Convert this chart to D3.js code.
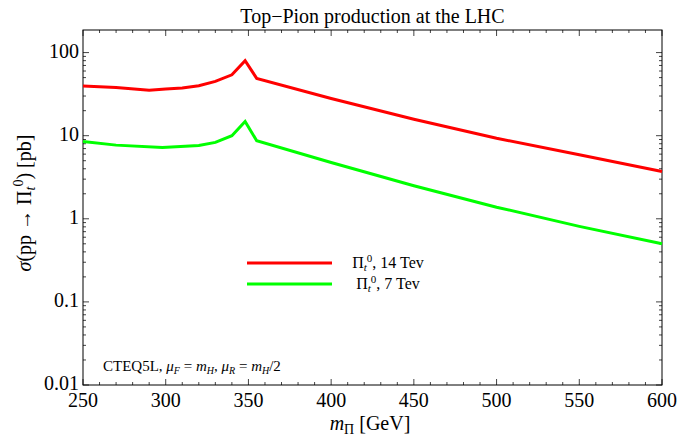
<!DOCTYPE html>
<html><head><meta charset="utf-8">
<script src="https://cdn.jsdelivr.net/npm/d3@7"></script>
<style>
body{margin:0;background:#fff;}
svg text{font-family:"Liberation Serif","Times New Roman",serif;fill:#000;}
</style></head>
<body><svg id="c" width="680" height="441"></svg>
<script>
// Data
const masses14 = [250,270,290,300,310,320,330,340,348,355,400,450,500,550,600];
const sigma14  = [39.5,38,35.3,36.5,37.5,40,45,54,80,49,28,15.8,9.3,5.9,3.7];
const masses7  = [250,270,298,320,330,340,348,355,400,450,500,550,600];
const sigma7   = [8.5,7.7,7.2,7.6,8.3,10,14.8,8.7,4.75,2.5,1.38,0.81,0.5];
const xTicks = [250,300,350,400,450,500,550,600];
const yTicks = [0.01,0.1,1,10,100];
const yTickLabels = ["0.01","0.1","1","10","100"];

const svg = d3.select("#c");
const L=83, R=662, T=30, B=385;
const x = d3.scaleLinear().domain([250,600]).range([L,R]);
const y = d3.scaleLog().domain([0.01,187]).range([B,T]);

// minor ticks
const xMinor = d3.range(250,601,10).filter(v=>!xTicks.includes(v));
const yMinor = [];
[0.01,0.1,1,10,100].forEach(d=>{for(let k=2;k<=9;k++){const v=d*k; if(v<=187) yMinor.push(v);}});

const tickCol="#444";
const g = svg.append("g");
xTicks.forEach(v=>{
  g.append("line").attr("x1",x(v)).attr("x2",x(v)).attr("y1",B).attr("y2",B-6).attr("stroke",tickCol);
  g.append("line").attr("x1",x(v)).attr("x2",x(v)).attr("y1",T).attr("y2",T+6).attr("stroke",tickCol);
});
xMinor.forEach(v=>{
  g.append("line").attr("x1",x(v)).attr("x2",x(v)).attr("y1",B).attr("y2",B-3).attr("stroke",tickCol);
  g.append("line").attr("x1",x(v)).attr("x2",x(v)).attr("y1",T).attr("y2",T+3).attr("stroke",tickCol);
});
yTicks.forEach(v=>{
  g.append("line").attr("x1",L).attr("x2",L+6).attr("y1",y(v)).attr("y2",y(v)).attr("stroke",tickCol);
  g.append("line").attr("x1",R).attr("x2",R-6).attr("y1",y(v)).attr("y2",y(v)).attr("stroke",tickCol);
});
yMinor.forEach(v=>{
  g.append("line").attr("x1",L).attr("x2",L+3).attr("y1",y(v)).attr("y2",y(v)).attr("stroke",tickCol);
  g.append("line").attr("x1",R).attr("x2",R-3).attr("y1",y(v)).attr("y2",y(v)).attr("stroke",tickCol);
});
svg.append("rect").attr("x",L).attr("y",T).attr("width",R-L).attr("height",B-T)
  .attr("fill","none").attr("stroke","#000").attr("stroke-width",1);

// tick labels
xTicks.forEach(v=>{
  svg.append("text").attr("x",x(v)).attr("y",407).attr("text-anchor","middle")
    .attr("font-size",20).text(String(v));
});
yTicks.forEach((v,i)=>{
  svg.append("text").attr("x",L-4).attr("y",y(v)+5).attr("text-anchor","end")
    .attr("font-size",20).text(yTickLabels[i]);
});

// lines
const line = d3.line().x(d=>x(d[0])).y(d=>y(d[1]));
svg.append("path").datum(masses14.map((m,i)=>[m,sigma14[i]])).attr("d",line)
  .attr("fill","none").attr("stroke","#ff0000").attr("stroke-width",3).attr("stroke-linejoin","miter");
svg.append("path").datum(masses7.map((m,i)=>[m,sigma7[i]])).attr("d",line)
  .attr("fill","none").attr("stroke","#00ff00").attr("stroke-width",3).attr("stroke-linejoin","miter");

// title
svg.append("text").attr("x",(L+R)/2).attr("y",23).attr("text-anchor","middle")
  .attr("font-size",20).text("Top\u2212Pion production at the LHC");

// x label
const xl = svg.append("text").attr("x",370).attr("y",430).attr("text-anchor","middle").attr("font-size",20);
xl.append("tspan").attr("font-style","italic").text("m");
xl.append("tspan").attr("font-size",14).attr("dy",4).text("\u03A0");
xl.append("tspan").attr("dy",-4).text(" [GeV]");

// y label
const yl = svg.append("text").attr("transform","translate(31,203) rotate(-90)")
  .attr("text-anchor","middle").attr("font-size",20);
yl.append("tspan").attr("font-style","italic").text("\u03C3");
yl.append("tspan").text("(pp \u2192 \u03A0");
yl.append("tspan").attr("font-style","italic").attr("font-size",14).attr("dy",4).text("t");
yl.append("tspan").attr("font-size",14).attr("dy",-12).text("0");
yl.append("tspan").attr("dy",8).text(") [pb]");

// legend
const legItems = [{c:"#ff0000",t:"14 Tev",yy:263},{c:"#00ff00",t:"7 Tev",yy:284}];
legItems.forEach(d=>{
  svg.append("line").attr("x1",247).attr("x2",332).attr("y1",d.yy).attr("y2",d.yy)
    .attr("stroke",d.c).attr("stroke-width",3);
  const t = svg.append("text").attr("x",388).attr("y",d.yy+5).attr("text-anchor","middle").attr("font-size",16);
  t.append("tspan").text("\u03A0");
  t.append("tspan").attr("font-style","italic").attr("font-size",11).attr("dy",3).text("t");
  t.append("tspan").attr("font-size",11).attr("dy",-9).text("0");
  t.append("tspan").attr("dy",6).text(", " + d.t);
});

// annotation
const an = svg.append("text").attr("x",103).attr("y",371).attr("font-size",15);
an.append("tspan").text("CTEQ5L, ");
an.append("tspan").attr("font-style","italic").text("\u03BC");
an.append("tspan").attr("font-style","italic").attr("font-size",10).attr("dy",3).text("F");
an.append("tspan").attr("dy",-3).text(" = ");
an.append("tspan").attr("font-style","italic").text("m");
an.append("tspan").attr("font-style","italic").attr("font-size",10).attr("dy",3).text("H");
an.append("tspan").attr("dy",-3).text(", ");
an.append("tspan").attr("font-style","italic").text("\u03BC");
an.append("tspan").attr("font-style","italic").attr("font-size",10).attr("dy",3).text("R");
an.append("tspan").attr("dy",-3).text(" = ");
an.append("tspan").attr("font-style","italic").text("m");
an.append("tspan").attr("font-style","italic").attr("font-size",10).attr("dy",3).text("H");
an.append("tspan").attr("dy",-3).text("/2");
</script></body></html>
